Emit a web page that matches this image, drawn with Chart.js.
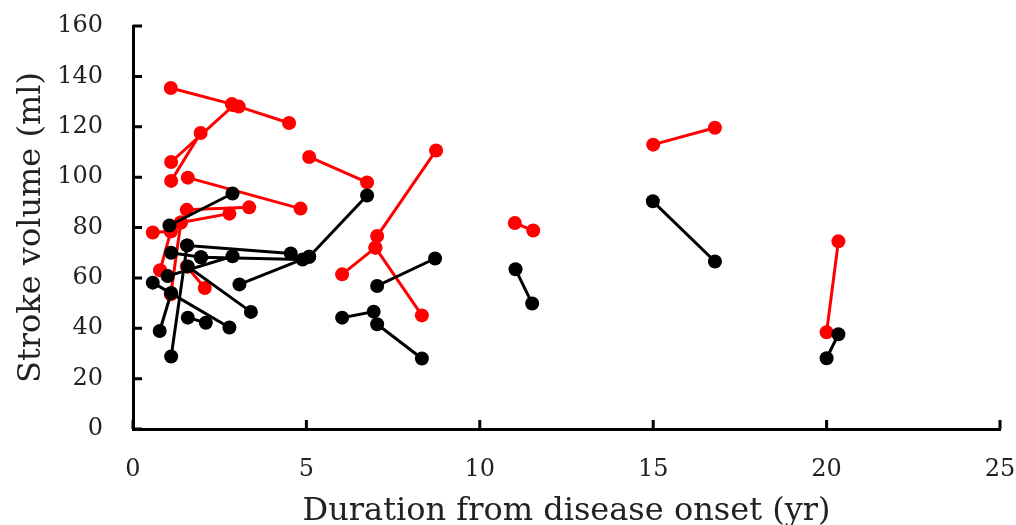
<!doctype html>
<html><head><meta charset="utf-8"><title>Stroke volume vs duration</title>
<style>
  html, body { margin: 0; padding: 0; background: #fff; }
  #wrap { width: 1016px; height: 525px; }
</style>
</head>
<body>
<div id="wrap"><canvas id="c" width="1016" height="525"></canvas></div>
<script src="https://cdn.jsdelivr.net/npm/chart.js"></script>
<script>
// each patient = one segment: start (x1,y1) -> end (x2,y2)
const redX1 = [1.09, 3.05, 1.1, 1.1, 1.58, 1.55, 1.38, 0.57, 0.78, 1.38, 1.55, 5.08, 7.04, 6.03, 6.99, 11.01, 15.0, 20.0]
const redY1 = [135.4, 128, 106, 98.5, 99.8, 87, 82, 78, 63, 82, 64.5, 108, 76.6, 61.4, 72, 81.8, 112.9, 38.4]
const redX2 = [2.85, 4.5, 2.9, 1.95, 4.83, 3.35, 2.78, 1.09, 1.09, 1.09, 2.07, 6.75, 8.74, 6.99, 8.33, 11.54, 16.78, 20.34]
const redY2 = [129, 121.5, 128.5, 117.5, 87.5, 88, 85.5, 78.5, 78.5, 53.5, 56, 97.9, 110.6, 72, 45.1, 78.8, 119.6, 74.5]

const blackX1 = [1.05, 1.56, 1.1, 1.96, 1.0, 3.07, 5.08, 0.57, 1.58, 1.58, 0.77, 1.1, 6.03, 7.04, 7.04, 11.03, 14.99, 20.0]
const blackY1 = [80.8, 72.9, 70, 68.2, 60.7, 57.4, 68.4, 58.1, 64.5, 44.2, 38.9, 28.8, 44.2, 41.6, 56.8, 63.4, 90.4, 28.1]
const blackX2 = [2.87, 4.55, 1.96, 4.89, 2.87, 5.08, 6.75, 2.78, 3.4, 2.1, 1.1, 1.56, 6.94, 8.33, 8.71, 11.51, 16.78, 20.34]
const blackY2 = [93.5, 69.7, 68.2, 67.3, 68.6, 68.4, 92.7, 40.3, 46.5, 42.2, 54, 72.9, 46.6, 28, 67.7, 49.8, 66.5, 37.6]

const xTicks = [0, 5, 10, 15, 20, 25]
const yTicks = [0, 20, 40, 60, 80, 100, 120, 140, 160]

const RED = '#ff0000'
const BLACK = '#000000'

function segments(x1, y1, x2, y2, color) {
  return x1.map((_, i) => ({
    data: [{ x: x1[i], y: y1[i] }, { x: x2[i], y: y2[i] }],
    showLine: true,
    borderColor: color,
    backgroundColor: color,
    borderWidth: 3,
    pointRadius: 7,
    pointHoverRadius: 7,
    pointBorderWidth: 0,
  }))
}

// black first so red sits on top
const datasets = [
  ...segments(blackX1, blackY1, blackX2, blackY2, BLACK),
  ...segments(redX1, redY1, redX2, redY2, RED),
]

// ticks point into the plot area
const innerTicks = {
  id: 'innerTicks',
  afterDatasetsDraw(chart) {
    const { ctx, chartArea, scales } = chart
    const len = 9
    ctx.save()
    ctx.strokeStyle = BLACK
    ctx.lineWidth = 3
    ctx.beginPath()
    for (const v of xTicks) {
      const px = scales.x.getPixelForValue(v)
      ctx.moveTo(px, chartArea.bottom)
      ctx.lineTo(px, chartArea.bottom - len)
    }
    for (const v of yTicks) {
      const py = scales.y.getPixelForValue(v)
      ctx.moveTo(chartArea.left, py)
      ctx.lineTo(chartArea.left + len, py)
    }
    ctx.stroke()
    ctx.restore()
  },
}

const serif = "'DejaVu Serif', 'Liberation Serif', serif"

new Chart(document.getElementById('c').getContext('2d'), {
  type: 'scatter',
  data: { datasets },
  options: {
    responsive: false,
    animation: false,
    events: [],
    layout: { padding: { left: 12, right: 16, top: 26, bottom: 0 } },
    plugins: { legend: { display: false }, tooltip: { enabled: false } },
    scales: {
      x: {
        type: 'linear',
        min: 0,
        max: 25,
        afterBuildTicks: (s) => { s.ticks = xTicks.map((v) => ({ value: v })) },
        afterFit: (s) => {
          s.height = 96
          s.paddingLeft = 0
          s.paddingRight = 0
        },
        grid: { display: false, drawTicks: false },
        border: { display: true, color: BLACK, width: 3 },
        ticks: { color: '#222', padding: 26, font: { family: serif, size: 24 } },
        title: {
          display: true,
          text: 'Duration from disease onset (yr)',
          color: '#222',
          font: { family: serif, size: 32 },
          padding: { top: 0, bottom: -6 },
        },
      },
      y: {
        type: 'linear',
        min: 0,
        max: 160,
        afterBuildTicks: (s) => { s.ticks = yTicks.map((v) => ({ value: v })) },
        afterFit: (s) => {
          s.width = 121
          s.paddingTop = 0
          s.paddingBottom = 0
        },
        grid: { display: false, drawTicks: false },
        border: { display: true, color: BLACK, width: 3 },
        ticks: { color: '#222', padding: 30, font: { family: serif, size: 24 } },
        title: {
          display: true,
          text: 'Stroke volume (ml)',
          color: '#222',
          font: { family: serif, size: 32 },
          padding: { top: 0, bottom: 0 },
        },
      },
    },
  },
  plugins: [innerTicks],
})
</script>
</body></html>
